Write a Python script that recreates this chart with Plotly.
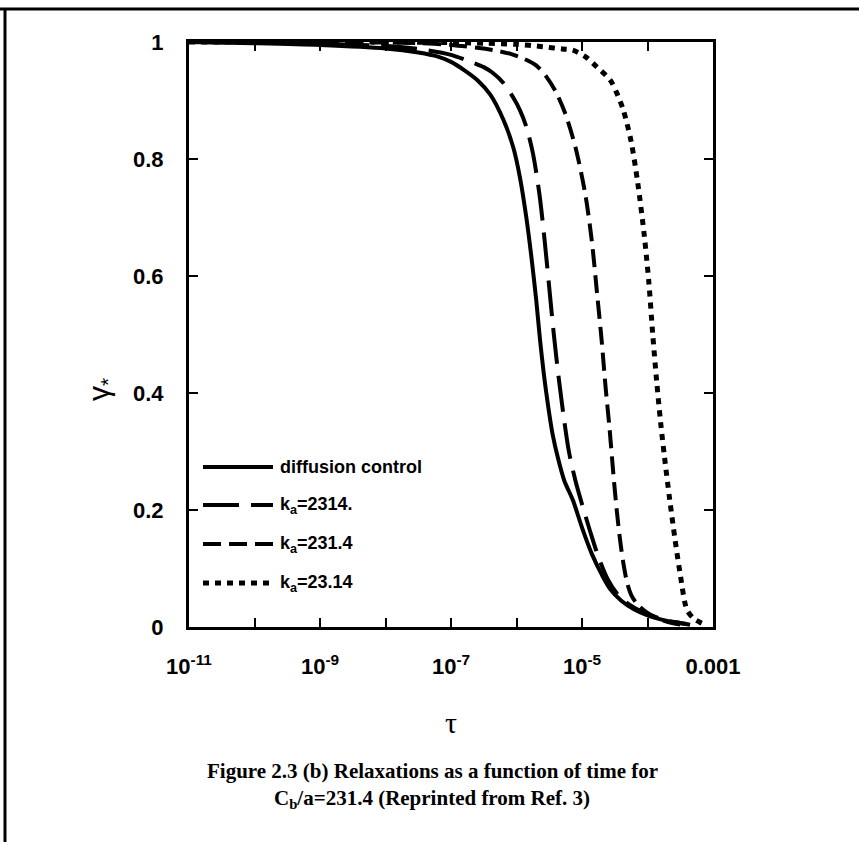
import plotly.graph_objects as go

# ---------------- data (log10 tau, gamma_*) ----------------
solid_logt = [-11, -10, -9, -8, -7.5, -7.2, -7.0, -6.8, -6.6, -6.4, -6.2, -6.05, -5.95, -5.85, -5.77,
              -5.70, -5.64, -5.58, -5.52, -5.45, -5.37, -5.27, -5.14, -5.0, -4.85, -4.7, -4.57, -4.4,
              -4.2, -4.0, -3.8, -3.6, -3.4]
solid_val = [1.0, 0.998, 0.995, 0.989, 0.982, 0.975, 0.966, 0.952, 0.935, 0.91, 0.867, 0.82, 0.77, 0.70,
             0.63, 0.56, 0.49, 0.43, 0.38, 0.33, 0.29, 0.25, 0.217, 0.17, 0.125, 0.09, 0.065, 0.045,
             0.03, 0.02, 0.013, 0.008, 0.005]

ka2314_logt = [-11, -10, -9, -8, -7.5, -7.0, -6.7, -6.5, -6.36, -6.2, -6.05, -5.95, -5.85, -5.75, -5.65,
               -5.57, -5.5, -5.43, -5.36, -5.28, -5.2, -5.1, -5.0, -4.88, -4.75, -4.6, -4.45, -4.3,
               -4.1, -3.9, -3.7, -3.5, -3.35]
ka2314_val = [1.0, 0.999, 0.997, 0.993, 0.988, 0.978, 0.966, 0.957, 0.947, 0.93, 0.905, 0.884, 0.855,
              0.81, 0.74, 0.66, 0.58, 0.5, 0.43, 0.36, 0.3, 0.25, 0.21, 0.165, 0.12, 0.08, 0.055, 0.04,
              0.027, 0.018, 0.011, 0.007, 0.004]

ka231_logt = [-11, -9, -8, -7.5, -7, -6.6, -6.3, -6.1, -5.9, -5.7, -5.54, -5.4, -5.26, -5.1, -4.95,
              -4.85, -4.77, -4.7, -4.64, -4.58, -4.52, -4.47, -4.42, -4.37, -4.31, -4.25, -4.15, -4.0,
              -3.85, -3.7, -3.5]
ka231_val = [1.0, 1.0, 0.999, 0.998, 0.995, 0.99, 0.985, 0.98, 0.972, 0.96, 0.94, 0.915, 0.879, 0.82,
             0.74, 0.66, 0.57, 0.49, 0.41, 0.34, 0.26, 0.2, 0.15, 0.11, 0.075, 0.055, 0.038, 0.024,
             0.015, 0.009, 0.004]

ka23_logt = [-11, -8, -7, -6.5, -6, -5.6, -5.3, -5.14, -4.95, -4.77, -4.57, -4.47, -4.37, -4.25, -4.15,
             -4.05, -3.98, -3.92, -3.86, -3.8, -3.74, -3.66, -3.58, -3.5, -3.4, -3.3, -3.2, -3.12]
ka23_val = [1.0, 1.0, 0.999, 0.998, 0.996, 0.992, 0.988, 0.986, 0.975, 0.957, 0.935, 0.913, 0.884, 0.83,
            0.76, 0.67, 0.59, 0.5, 0.42, 0.35, 0.29, 0.217, 0.15, 0.09, 0.03, 0.015, 0.008, 0.004]

x_major_exp = [-11, -9, -7, -5, -3]
x_major_text = ["10<sup>-11</sup>", "10<sup>-9</sup>", "10<sup>-7</sup>", "10<sup>-5</sup>", "0.001"]
x_minor_exp = [-10, -8, -6, -4]
y_tick_vals = [0, 0.2, 0.4, 0.6, 0.8, 1]
y_tick_text = ["0", "0.2", "0.4", "0.6", "0.8", "1"]

legend_names = ["diffusion control", "k<sub>a</sub>=2314.", "k<sub>a</sub>=231.4", "k<sub>a</sub>=23.14"]
dashes = ["solid", "36px,12px", "18px,8px", "6px,6px"]
widths = [4, 4, 4, 5]
series = [(solid_logt, solid_val), (ka2314_logt, ka2314_val), (ka231_logt, ka231_val), (ka23_logt, ka23_val)]

# ---------------- layout geometry (pixels) ----------------
W, H = 859, 842
L, R, T, B = 189, 713, 42, 627
def px(x):
    return (x - L) / (R - L)
def py(y):
    return (B - y) / (B - T)

fig = go.Figure()
for (lt, v), name, d, w in zip(series, legend_names, dashes, widths):
    fig.add_trace(go.Scatter(x=[10 ** e for e in lt], y=v, mode="lines", name=name,
                             line=dict(color="black", width=w, dash=d, shape="spline", smoothing=0.8),
                             showlegend=False))

shapes = []
annotations = []
# outer frame: top and left border
shapes.append(dict(type="line", xref="paper", yref="paper", x0=px(0), x1=px(W), y0=py(9), y1=py(9),
                   line=dict(color="black", width=3)))
shapes.append(dict(type="line", xref="paper", yref="paper", x0=px(5), x1=px(5), y0=py(9), y1=py(H),
                   line=dict(color="black", width=3)))

# manual legend
leg_y = [467, 505, 544, 583]
for yy, name, d, w in zip(leg_y, legend_names, dashes, widths):
    shapes.append(dict(type="line", xref="paper", yref="paper", x0=px(203), x1=px(273), y0=py(yy), y1=py(yy),
                       line=dict(color="black", width=w, dash=d)))
    annotations.append(dict(xref="paper", yref="paper", x=px(278), y=py(yy), text="<b>" + name + "</b>",
                            showarrow=False, xanchor="left", yanchor="middle",
                            font=dict(family="Liberation Sans", size=18, color="black")))

# axis titles
annotations.append(dict(xref="paper", yref="paper", x=px(100), y=py(390), text="γ<sub>*</sub>",
                        showarrow=False, textangle=-90, xanchor="center", yanchor="middle",
                        font=dict(family="Liberation Sans", size=30, color="black")))
annotations.append(dict(xref="paper", yref="paper", x=px(451), y=py(722), text="τ",
                        showarrow=False, xanchor="center", yanchor="middle",
                        font=dict(family="Liberation Serif", size=30, color="black")))
# caption
cap_font = dict(family="Liberation Serif", size=21, color="black")
annotations.append(dict(xref="paper", yref="paper", x=px(432), y=py(771),
                        text="<b>Figure 2.3 (b) Relaxations as a function of time for</b>",
                        showarrow=False, xanchor="center", yanchor="middle", font=cap_font))
annotations.append(dict(xref="paper", yref="paper", x=px(432), y=py(799),
                        text="<b>C<sub>b</sub>/a=231.4 (Reprinted from Ref. 3)</b>",
                        showarrow=False, xanchor="center", yanchor="middle", font=cap_font))

tick_common = dict(ticks="inside", ticklen=9, tickwidth=2, tickcolor="black",
                   showline=True, linewidth=3, linecolor="black", mirror="ticks",
                   showgrid=False, zeroline=False)

fig.update_layout(
    width=W, height=H,
    margin=dict(l=L, r=W - R, t=T, b=H - B, pad=0),
    paper_bgcolor="white", plot_bgcolor="white",
    shapes=shapes, annotations=annotations,
    xaxis=dict(type="log", range=[-11, -3], tickmode="array",
               tickvals=[10 ** e for e in x_major_exp], ticktext=x_major_text,
               minor=dict(tickmode="array", tickvals=[10 ** e for e in x_minor_exp],
                          ticks="inside", ticklen=9, tickwidth=2, tickcolor="black", showgrid=False),
               ticklabelstandoff=18,
               tickfont=dict(family="Liberation Sans", size=22, color="black", weight="bold"),
               **tick_common),
    yaxis=dict(range=[0, 1], tickmode="array", tickvals=y_tick_vals, ticktext=y_tick_text,
               ticklabelstandoff=18,
               tickfont=dict(family="Liberation Sans", size=22, color="black", weight="bold"),
               **tick_common),
)

fig.write_html("out.html")
